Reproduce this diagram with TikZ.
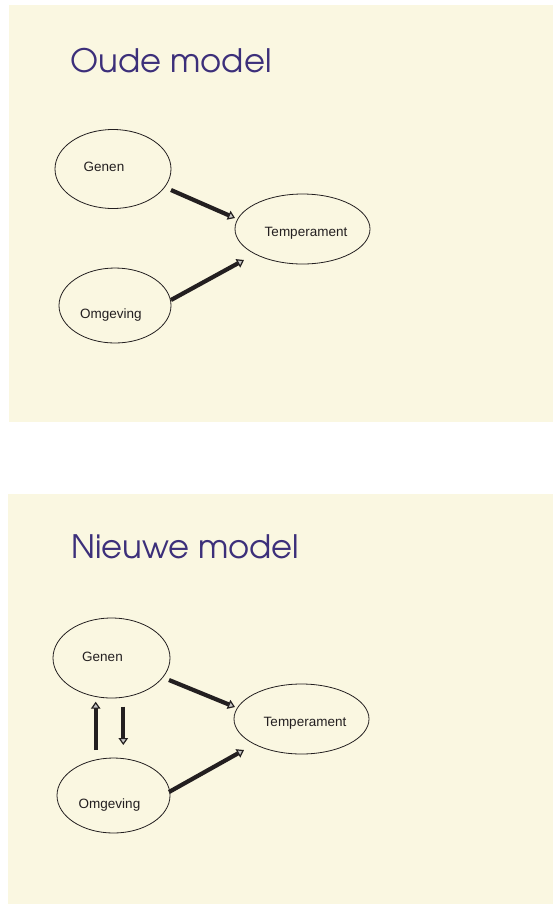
\documentclass[tikz,border=0pt]{standalone}
\usepackage{fontspec}
\setmainfont{Liberation Sans}
\newfontfamily\titlefont{texgyreadventor-regular.otf}
\usetikzlibrary{arrows.meta,calc,shapes.geometric}
\definecolor{panel}{HTML}{FAF7E1}
\definecolor{titlecol}{HTML}{3C2F7A}
\definecolor{ink}{HTML}{231F20}
\begin{document}
\begin{tikzpicture}[x=1pt,y=-1pt,
  ell/.style={ellipse, draw=ink, line width=0.8pt, inner sep=0pt},
  lbl/.style={anchor=base, font=\fontsize{13.5}{16}\selectfont, text=ink, inner sep=0pt},
  ttl/.style={anchor=base west, font=\titlefont\fontsize{32.3}{36}\selectfont, text=titlecol, inner sep=0pt},
  arr/.style={draw=ink, line width=4.2pt, -{Triangle[length=7pt,width=9.5pt,line width=1.2pt 0,fill=gray!45]}}]
\useasboundingbox (0,0) rectangle (553,906);
\fill[white] (0,0) rectangle (553,906);
\fill[panel] (9,5) rectangle (553,422);
\fill[panel] (8,494) rectangle (553,904);
% top panel
\node[ttl] (t1) at (70.5,72.5) {Oude model};
\node[ell, minimum width=116pt, minimum height=79pt] (g1) at (113,169) {};
\node[lbl] (g1t) at (104,171.7) {Genen};
\node[ell, minimum width=112pt, minimum height=75pt] (o1) at (115,305.5) {};
\node[lbl] (o1t) at (110.8,318.3) {Omgeving};
\node[ell, minimum width=135pt, minimum height=70pt] (p1) at (302.5,229) {};
\node[lbl] (p1t) at (306,236.7) {Temperament};
\draw[arr] ($(g1.center)+(58,21)$) -- ($(p1.center)+(-67.5,-11)$);
\draw[arr] ($(o1.center)+(56,-5.5)$) -- ($(p1.center)+(-58.5,31)$);
% bottom panel
\node[ttl] (t2) at (71,558) {Nieuwe model};
\node[ell, minimum width=117pt, minimum height=80pt] (g2) at (111.5,658) {};
\node[lbl] (g2t) at (102.5,661.7) {Genen};
\node[ell, minimum width=113pt, minimum height=75pt] (o2) at (113.5,795.5) {};
\node[lbl] (o2t) at (109.5,808.5) {Omgeving};
\node[ell, minimum width=135pt, minimum height=70pt] (p2) at (301.5,719) {};
\node[lbl] (p2t) at (305,726.7) {Temperament};
\draw[arr] ($(g2.center)+(57.5,22)$) -- ($(p2.center)+(-66.5,-12)$);
\draw[arr] ($(o2.center)+(55.5,-3.5)$) -- ($(p2.center)+(-57.5,31)$);
\draw[arr] ($(o2.center)+(-17.8,-45.5)$) -- ($(g2.center)+(-15.8,43.7)$);
\draw[arr] ($(g2.center)+(11.8,48.7)$) -- ($(o2.center)+(9.8,-50.5)$);
\end{tikzpicture}
\end{document}
